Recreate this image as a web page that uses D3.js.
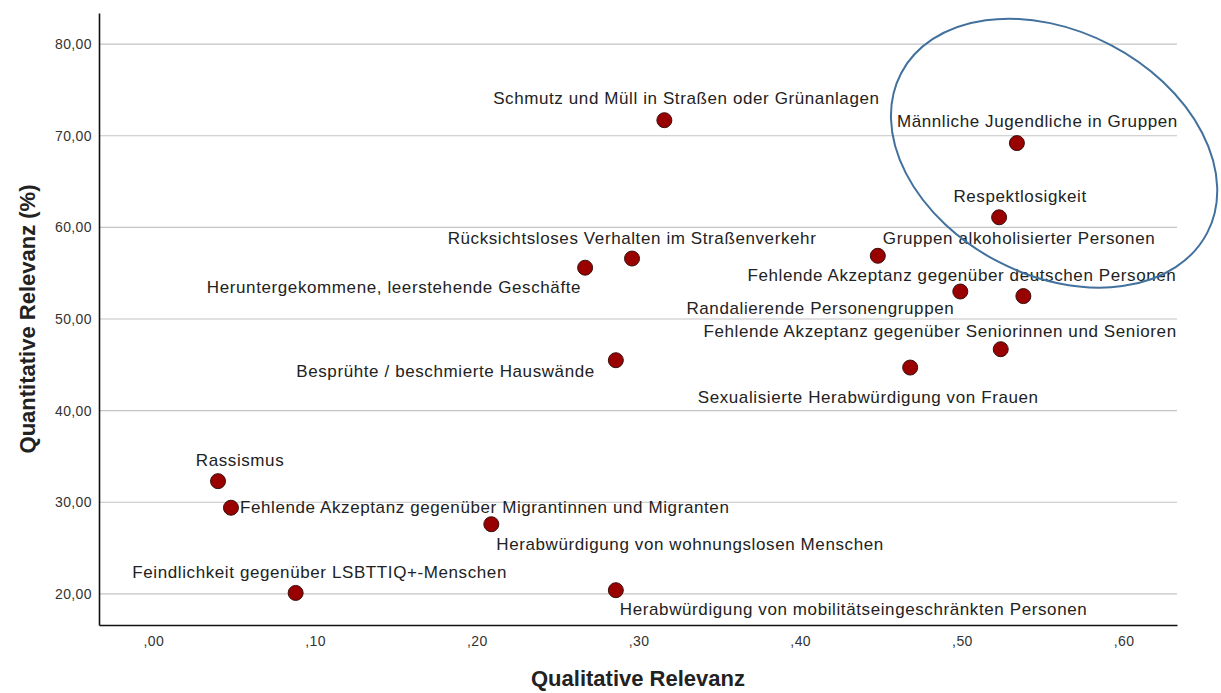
<!DOCTYPE html>
<html>
<head>
<meta charset="utf-8">
<script src="https://cdn.jsdelivr.net/npm/d3@7/dist/d3.min.js"></script>
<style>
  html, body { margin: 0; padding: 0; background: #fff; }
  svg { display: block; }
  text { font-family: "Liberation Sans", Arial, sans-serif; }
</style>
</head>
<body>
<svg id="chart" width="1221" height="693"></svg>
<script>
// ---------- DATA ----------
const categories = [
  "Schmutz und Müll in Straßen oder Grünanlagen",
  "Männliche Jugendliche in Gruppen",
  "Respektlosigkeit",
  "Gruppen alkoholisierter Personen",
  "Rücksichtsloses Verhalten im Straßenverkehr",
  "Heruntergekommene, leerstehende Geschäfte",
  "Randalierende Personengruppen",
  "Fehlende Akzeptanz gegenüber deutschen Personen",
  "Fehlende Akzeptanz gegenüber Seniorinnen und Senioren",
  "Sexualisierte Herabwürdigung von Frauen",
  "Besprühte / beschmierte Hauswände",
  "Rassismus",
  "Fehlende Akzeptanz gegenüber Migrantinnen und Migranten",
  "Herabwürdigung von wohnungslosen Menschen",
  "Feindlichkeit gegenüber LSBTTIQ+-Menschen",
  "Herabwürdigung von mobilitätseingeschränkten Personen"
];
const qualitative = [0.316, 0.534, 0.523, 0.448, 0.296, 0.267, 0.499, 0.538, 0.524, 0.468, 0.286, 0.040, 0.048, 0.209, 0.088, 0.286];
const quantitative = [71.7, 69.2, 61.1, 56.9, 56.6, 55.6, 53.0, 52.5, 46.7, 44.7, 45.5, 32.3, 29.4, 27.6, 20.1, 20.4];
const xTicks = [0, 0.1, 0.2, 0.3, 0.4, 0.5, 0.6];
const yTicks = [20, 30, 40, 50, 60, 70, 80];
const xTitle = "Qualitative Relevanz";
const yTitle = "Quantitative Relevanz (%)";

// label placement (layout only): [text-anchor, dx px, dy px] relative to the point
const labelPlacement = [
  ["middle", 22, -22],
  ["end", 161, -22],
  ["middle", 21, -21],
  ["start", 5, -18],
  ["middle", 0, -21],
  ["end", -4, 19],
  ["end", -6, 16],
  ["end", 153, -21],
  ["end", 176, -18],
  ["middle", -42, 29],
  ["end", -21, 11],
  ["middle", 22, -21],
  ["start", 9, -1],
  ["start", 5, 20],
  ["middle", 24, -21],
  ["start", 4, 19]
];
// highlight ellipse annotation (centre in data units, radii in px, rotation deg)
const highlight = { cx: 0.557, cy: 68.1, rx: 172.6, ry: 122.1, rotate: 27.5 };

// ---------- LAYOUT ----------
const plot = { left: 99, right: 1177, top: 13, bottom: 625 };
const svg = d3.select("#chart");

const x = d3.scaleLinear().domain([-0.0336, 0.633]).range([plot.left, plot.right]);
const y = d3.scaleLinear().domain([16.6, 83.4]).range([plot.bottom, plot.top]);

const fmtX = d => (d === 0 ? ",00" : "," + d3.format(".2f")(d).split(".")[1]);
const fmtY = d => d3.format(".2f")(d).replace(".", ",");

// gridlines
svg.append("g")
  .selectAll("line")
  .data(yTicks)
  .join("line")
  .attr("x1", plot.left).attr("x2", plot.right)
  .attr("y1", d => y(d)).attr("y2", d => y(d))
  .attr("stroke", "#c4c4c4").attr("stroke-width", 1.2);

// axes
const yAxis = d3.axisLeft(y).tickValues(yTicks).tickFormat(fmtY).tickSize(0).tickPadding(7);
const gy = svg.append("g").attr("transform", `translate(${plot.left},0)`).call(yAxis);
gy.select(".domain").attr("stroke", "#111").attr("stroke-width", 1.6);
gy.selectAll("text").attr("font-size", 14).attr("fill", "#333").attr("letter-spacing", 0.4)
  .attr("font-family", "Liberation Sans, Arial, sans-serif");

const xAxis = d3.axisBottom(x).tickValues(xTicks).tickFormat(fmtX).tickSize(0).tickPadding(11);
const gx = svg.append("g").attr("transform", `translate(0,${plot.bottom})`).call(xAxis);
gx.select(".domain").attr("stroke", "#111").attr("stroke-width", 1.6);
gx.selectAll("text").attr("font-size", 14).attr("fill", "#333").attr("letter-spacing", 0.4)
  .attr("font-family", "Liberation Sans, Arial, sans-serif");

// axis titles
svg.append("text")
  .attr("x", (plot.left + plot.right) / 2).attr("y", 686)
  .attr("text-anchor", "middle")
  .attr("font-size", 22).attr("font-weight", "bold").attr("fill", "#222")
  .text(xTitle);
svg.append("text")
  .attr("transform", `translate(35,${(plot.top + plot.bottom) / 2}) rotate(-90)`)
  .attr("text-anchor", "middle")
  .attr("font-size", 22).attr("font-weight", "bold").attr("fill", "#222")
  .text(yTitle);

// data
const data = categories.map((c, i) => ({
  name: c, qx: qualitative[i], qy: quantitative[i], place: labelPlacement[i]
}));

// labels
svg.append("g")
  .selectAll("text")
  .data(data)
  .join("text")
  .attr("x", d => x(d.qx) + d.place[1])
  .attr("y", d => y(d.qy) + d.place[2])
  .attr("dy", "0.36em")
  .attr("text-anchor", d => d.place[0])
  .attr("font-size", 17).attr("letter-spacing", 0.6)
  .attr("fill", "#222")
  .text(d => d.name);

// points
svg.append("g")
  .selectAll("circle")
  .data(data)
  .join("circle")
  .attr("cx", d => x(d.qx))
  .attr("cy", d => y(d.qy))
  .attr("r", 7.5)
  .attr("fill", "#990000")
  .attr("stroke", "#3a1010")
  .attr("stroke-width", 1);

// highlight ellipse
svg.append("ellipse")
  .attr("transform", `translate(${x(highlight.cx)},${y(highlight.cy)}) rotate(${highlight.rotate})`)
  .attr("rx", highlight.rx).attr("ry", highlight.ry)
  .attr("fill", "none")
  .attr("stroke", "#41719c")
  .attr("stroke-width", 2);
</script>
</body>
</html>
